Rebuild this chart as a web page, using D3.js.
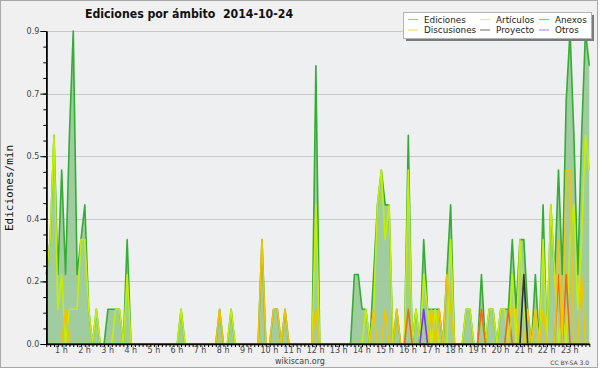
<!DOCTYPE html>
<html>
<head>
<meta charset="utf-8">
<script src="https://cdn.jsdelivr.net/npm/d3@7/dist/d3.min.js"></script>
<style>
  body { margin: 0; background: #fff; }
</style>
</head>
<body>
<div id="viz"></div>
<script>
// edits per minute, 10-minute bins
const ediciones = [
  0.2, 0.3, 0.6, 0.2, 0.5, 0.2, 0.6, 0.9, 0.2, 0.3,
  0.4, 0.1, 0, 0.1, 0, 0, 0.1, 0.1, 0.1, 0.1,
  0, 0.3, 0, 0, 0, 0, 0, 0, 0, 0,
  0, 0, 0, 0, 0, 0.1, 0, 0, 0, 0,
  0, 0, 0, 0, 0, 0.1, 0, 0, 0.1, 0,
  0, 0, 0, 0, 0, 0, 0.3, 0, 0, 0.1,
  0.1, 0, 0.1, 0, 0, 0, 0, 0, 0, 0,
  0.8, 0, 0, 0, 0, 0, 0, 0, 0, 0,
  0.2, 0.2, 0.1, 0.1, 0, 0.2, 0.4, 0.5, 0.4, 0.4,
  0, 0.1, 0, 0, 0.6, 0, 0.1, 0, 0.3, 0.1,
  0.1, 0.1, 0.1, 0, 0.2, 0.4, 0, 0, 0, 0.1,
  0.1, 0, 0, 0.2, 0, 0.1, 0.1, 0, 0.1, 0.1,
  0.1, 0.3, 0.1, 0.3, 0.3, 0.1, 0, 0.2, 0, 0.4,
  0, 0.4, 0.2, 0.5, 0.2, 0.7, 0.9, 0.6, 0.2, 0.6,
  0.9, 0.8
];
const articulos = [
  0.2, 0.3, 0.6, 0.1, 0.2, 0, 0.1, 0.1, 0.1, 0.3,
  0.3, 0.1, 0, 0.1, 0, 0, 0, 0, 0.1, 0.1,
  0, 0.2, 0, 0, 0, 0, 0, 0, 0, 0,
  0, 0, 0, 0, 0, 0.1, 0, 0, 0, 0,
  0, 0, 0, 0, 0, 0, 0, 0, 0.1, 0,
  0, 0, 0, 0, 0, 0, 0, 0, 0, 0,
  0, 0, 0, 0, 0, 0, 0, 0, 0, 0,
  0.4, 0, 0, 0, 0, 0, 0, 0, 0, 0,
  0, 0, 0, 0.1, 0, 0.1, 0.4, 0.5, 0.3, 0.4,
  0, 0, 0, 0, 0.5, 0, 0.1, 0, 0.2, 0.1,
  0, 0.1, 0, 0, 0, 0.3, 0, 0, 0, 0.1,
  0.1, 0, 0, 0.1, 0, 0.1, 0.1, 0, 0.1, 0.1,
  0, 0.2, 0, 0.3, 0.1, 0, 0, 0.1, 0, 0.3,
  0, 0.4, 0.2, 0, 0.1, 0, 0.3, 0.4, 0.1, 0.3,
  0.6, 0.5
];
const anexos = [
  0, 0, 0, 0, 0, 0, 0, 0, 0, 0,
  0, 0, 0, 0, 0, 0, 0, 0, 0, 0,
  0, 0, 0, 0, 0, 0, 0, 0, 0, 0,
  0, 0, 0, 0, 0, 0, 0, 0, 0, 0,
  0, 0, 0, 0, 0, 0, 0, 0, 0, 0,
  0, 0, 0, 0, 0, 0, 0, 0, 0, 0,
  0, 0, 0, 0, 0, 0, 0, 0, 0, 0,
  0, 0, 0, 0, 0, 0, 0, 0, 0, 0,
  0, 0, 0, 0, 0, 0, 0, 0, 0, 0,
  0, 0, 0, 0, 0.1, 0, 0, 0, 0, 0,
  0, 0, 0, 0, 0, 0, 0, 0, 0, 0,
  0, 0, 0, 0.1, 0, 0, 0, 0, 0, 0,
  0.1, 0, 0, 0, 0, 0, 0, 0, 0, 0,
  0, 0, 0, 0.2, 0, 0.2, 0, 0, 0, 0,
  0, 0
];
const discusiones = [
  0, 0, 0, 0, 0, 0.1, 0, 0, 0, 0,
  0, 0, 0, 0, 0, 0, 0, 0, 0, 0,
  0, 0, 0, 0, 0, 0, 0, 0, 0, 0,
  0, 0, 0, 0, 0, 0, 0, 0, 0, 0,
  0, 0, 0, 0, 0, 0.1, 0, 0, 0, 0,
  0, 0, 0, 0, 0, 0, 0.3, 0, 0, 0.1,
  0.1, 0, 0.1, 0, 0, 0, 0, 0, 0, 0,
  0.1, 0, 0, 0, 0, 0, 0, 0, 0, 0,
  0, 0, 0, 0, 0, 0.1, 0, 0, 0.1, 0,
  0, 0.1, 0, 0, 0, 0, 0, 0, 0, 0,
  0.1, 0, 0.1, 0, 0.2, 0.1, 0, 0, 0, 0,
  0, 0, 0, 0, 0, 0, 0, 0, 0, 0,
  0, 0.1, 0.1, 0, 0, 0.1, 0, 0.1, 0, 0.1,
  0, 0, 0, 0.3, 0, 0.5, 0.5, 0, 0, 0.2,
  0, 0
];
const proyecto = [
  0, 0, 0, 0, 0, 0, 0, 0, 0, 0,
  0, 0, 0, 0, 0, 0, 0, 0, 0, 0,
  0, 0, 0, 0, 0, 0, 0, 0, 0, 0,
  0, 0, 0, 0, 0, 0, 0, 0, 0, 0,
  0, 0, 0, 0, 0, 0, 0, 0, 0, 0,
  0, 0, 0, 0, 0, 0, 0, 0, 0, 0,
  0, 0, 0, 0, 0, 0, 0, 0, 0, 0,
  0, 0, 0, 0, 0, 0, 0, 0, 0, 0,
  0, 0, 0, 0, 0, 0, 0, 0, 0, 0,
  0, 0, 0, 0, 0, 0, 0, 0, 0, 0,
  0, 0, 0, 0, 0, 0, 0, 0, 0, 0,
  0, 0, 0, 0, 0, 0, 0, 0, 0, 0,
  0, 0, 0, 0, 0.2, 0, 0, 0, 0, 0,
  0, 0, 0, 0, 0, 0, 0, 0, 0, 0,
  0, 0
];
const otros = [
  0, 0, 0, 0, 0, 0, 0, 0, 0, 0,
  0, 0, 0, 0, 0, 0, 0, 0, 0, 0,
  0, 0, 0, 0, 0, 0, 0, 0, 0, 0,
  0, 0, 0, 0, 0, 0, 0, 0, 0, 0,
  0, 0, 0, 0, 0, 0, 0, 0, 0, 0,
  0, 0, 0, 0, 0, 0, 0, 0, 0, 0,
  0, 0, 0, 0, 0, 0, 0, 0, 0, 0,
  0, 0, 0, 0, 0, 0, 0, 0, 0, 0,
  0, 0, 0, 0, 0, 0, 0, 0, 0, 0,
  0, 0, 0, 0, 0, 0, 0, 0, 0.1, 0,
  0, 0, 0, 0, 0, 0, 0, 0, 0, 0,
  0, 0, 0, 0, 0, 0, 0, 0, 0, 0,
  0, 0, 0, 0, 0, 0, 0, 0, 0, 0,
  0, 0, 0, 0, 0, 0, 0, 0, 0, 0,
  0, 0
];

const seriesNames = ["Ediciones", "Artículos", "Anexos", "Discusiones", "Proyecto", "Otros"];
const seriesValues = [ediciones, articulos, anexos, discusiones, proyecto, otros];
const lineColors = ["#33ad33", "#c4f000", "#f5641e", "#f5c300", "#303030", "#7a36f2"];
const legendColors = ["#8fd08f", "#d6f27a", "#f28c5c", "#f2d46a", "#6e6e6e", "#a67cf2"];

const yTickValues = [0, 0.18, 0.36, 0.54, 0.72, 0.9];
const yTickLabels = ["0.0", "0.2", "0.4", "0.5", "0.7", "0.9"];
const hourLabels = ["1 h", "2 h", "3 h", "4 h", "5 h", "6 h", "7 h", "8 h", "9 h", "10 h", "11 h", "12 h",
  "13 h", "14 h", "15 h", "16 h", "17 h", "18 h", "19 h", "20 h", "21 h", "22 h", "23 h"];

const width = 600;
const height = 370;

const svg = d3.select("#viz").append("svg")
    .attr("width", width)
    .attr("height", height)
    .attr("font-family", "DejaVu Sans");

// frame
svg.append("rect")
    .attr("x", 0.5).attr("y", 0.5)
    .attr("width", 597).attr("height", 367)
    .attr("fill", "#f0f0f0")
    .attr("stroke", "#a8a8a8");

const x = d3.scaleLinear().domain([0, ediciones.length - 1]).range([46.3, 589.3]);
const y = d3.scaleLinear().domain([0, 0.9]).range([344, 31]);

svg.append("rect")
    .attr("x", x(0)).attr("y", y(0.9))
    .attr("width", x(ediciones.length - 1) - x(0))
    .attr("height", y(0) - y(0.9))
    .attr("fill", "#eeeff1");

// grid
svg.selectAll("line.grid")
    .data(yTickValues.slice(1))
    .enter()
    .append("line")
    .attr("class", "grid")
    .attr("x1", x(0)).attr("x2", x(ediciones.length - 1))
    .attr("y1", d => Math.round(y(d)) + 0.5)
    .attr("y2", d => Math.round(y(d)) + 0.5)
    .attr("stroke", "#c9c9c9");

// area for total edits
const area = d3.area()
    .x((d, i) => x(i))
    .y0(y(0))
    .y1(d => y(d));

svg.append("path")
    .attr("d", area(ediciones))
    .attr("fill", "#9bc99b")
    .attr("fill-opacity", 0.95);

const line = d3.line()
    .x((d, i) => x(i))
    .y(d => y(d));

svg.selectAll("path.serie")
    .data(seriesValues)
    .enter()
    .append("path")
    .attr("class", "serie")
    .attr("d", d => line(d))
    .attr("fill", "none")
    .attr("stroke", (d, i) => lineColors[i])
    .attr("stroke-width", 1.6)
    .attr("stroke-linejoin", "round");

// axes
svg.append("g")
    .attr("transform", "translate(" + x(0) + ",0)")
    .call(d3.axisLeft(y).tickValues(yTickValues).tickSize(6).tickSizeOuter(0)
        .tickPadding(1).tickFormat((d, i) => yTickLabels[i]));

svg.append("g")
    .attr("transform", "translate(" + x(0) + ",0)")
    .call(d3.axisLeft(y).tickValues(d3.range(0, 0.9001, 0.045)).tickSize(3).tickSizeOuter(0).tickFormat(""));

svg.append("g")
    .attr("transform", "translate(0," + y(0) + ")")
    .call(d3.axisBottom(x).tickValues(d3.range(ediciones.length)).tickSize(3).tickSizeOuter(0).tickFormat(""));

const xLabels = svg.append("g")
    .attr("transform", "translate(0," + y(0) + ")")
    .call(d3.axisBottom(x).tickValues(hourLabels.map((h, k) => (k + 1) * 6 - 2.2))
        .tickSize(0).tickPadding(3).tickFormat((d, i) => hourLabels[i]));
xLabels.select(".domain").remove();

svg.selectAll(".tick text")
    .attr("font-family", "DejaVu Sans")
    .attr("font-size", 8)
    .attr("fill", "#444");
svg.selectAll(".tick line").attr("stroke", "#000");
svg.selectAll(".domain").attr("stroke", "#000").attr("stroke-width", 1.5);

// legend
const legend = svg.append("g").attr("transform", "translate(403,12)");
legend.append("rect")
    .attr("x", 3).attr("y", 3).attr("width", 188).attr("height", 26)
    .attr("fill", "#7a7a7a");
legend.append("rect")
    .attr("x", 0.5).attr("y", 0.5).attr("width", 188).attr("height", 26)
    .attr("fill", "#fff").attr("stroke", "#b4b4b4");

const legendCols = [5, 77, 136];
const legendItems = legend.selectAll("g.item")
    .data(seriesNames)
    .enter()
    .append("g")
    .attr("class", "item")
    .attr("transform", (d, i) => "translate(" + legendCols[i % 3] + "," + (i < 3 ? 0 : 10.5) + ")");

legendItems.append("line")
    .attr("x1", 0).attr("x2", 10)
    .attr("y1", 7.5).attr("y2", 7.5)
    .attr("stroke", (d, i) => legendColors[i]);

legendItems.append("text")
    .attr("x", 16).attr("y", 10.5)
    .attr("font-size", 8.8)
    .attr("fill", "#222")
    .text(d => d);

// titles
svg.append("text")
    .attr("x", 85).attr("y", 18.3)
    .attr("font-family", "DejaVu Sans")
    .attr("font-stretch", "condensed")
    .attr("font-weight", "bold")
    .attr("font-size", 12.2)
    .attr("fill", "#111")
    .style("white-space", "pre")
    .text("Ediciones por ámbito  2014-10-24");

svg.append("text")
    .attr("transform", "translate(13,188) rotate(-90)")
    .attr("text-anchor", "middle")
    .attr("font-family", "DejaVu Sans Mono")
    .attr("font-size", 11)
    .attr("fill", "#111")
    .text("Ediciones/min");

svg.append("text")
    .attr("x", 300).attr("y", 364)
    .attr("text-anchor", "middle")
    .attr("font-size", 8)
    .attr("fill", "#444")
    .text("wikiscan.org");

svg.append("text")
    .attr("x", 589).attr("y", 364.5)
    .attr("text-anchor", "end")
    .attr("font-size", 6)
    .attr("fill", "#444")
    .text("CC BY-SA 3.0");
</script>
</body>
</html>
